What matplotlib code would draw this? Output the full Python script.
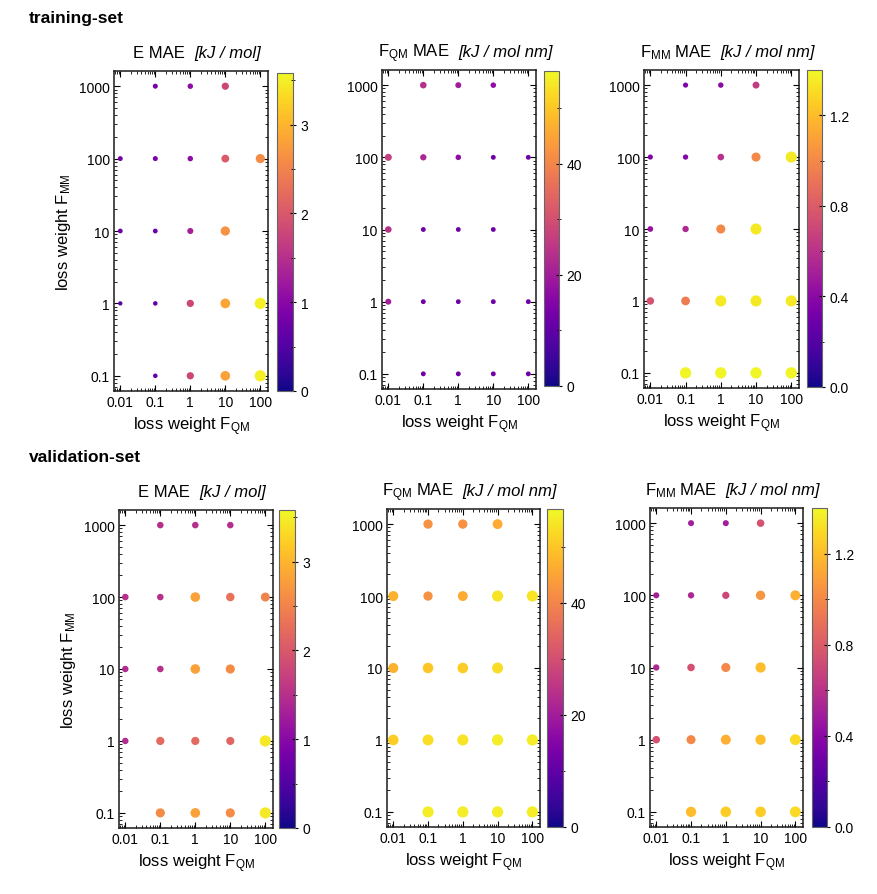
import numpy as np
import matplotlib.pyplot as plt
from matplotlib import colors, ticker

plt.rcParams['font.family'] = ['Liberation Sans', 'DejaVu Sans']
plt.rcParams['mathtext.fontset'] = 'custom'
plt.rcParams['mathtext.rm'] = 'Liberation Sans'
plt.rcParams['mathtext.it'] = 'Liberation Sans:italic'
plt.rcParams['mathtext.bf'] = 'Liberation Sans:bold'

# ── grid of loss weights (same 21 runs in every panel) ───────────────────────
w_fqm = [0.1, 1, 10,
         0.01, 0.1, 1, 10, 100,
         0.01, 0.1, 1, 10,
         0.01, 0.1, 1, 10, 100,
         0.1, 1, 10, 100]
w_fmm = [1000] * 3 + [100] * 5 + [10] * 4 + [1] * 5 + [0.1] * 4

# ── MAE values, same order as the grid ───────────────────────────────────────
train_E = [0.85, 1.05, 1.8,
           0.8, 0.85, 1.05, 2.05, 2.6,
           0.75, 0.75, 1.3, 2.65,
           0.55, 0.65, 1.8, 2.85, 3.5,
           0.65, 1.8, 2.8, 3.5]
train_FQM = [24, 20, 17,
             27, 22, 17, 12.5, 12.5,
             24, 12.5, 12, 12,
             20, 12.5, 12, 12.5, 12.5,
             12.5, 12.5, 12.5, 12.5]
train_FMM = [0.35, 0.4, 0.65,
             0.35, 0.38, 0.6, 1.0, 1.35,
             0.45, 0.55, 1.0, 1.35,
             0.75, 0.95, 1.35, 1.35, 1.35,
             1.38, 1.38, 1.38, 1.38]

val_E = [1.5, 1.5, 1.5,
         1.5, 1.5, 2.8, 2.3, 2.5,
         1.45, 1.5, 2.8, 2.6,
         1.45, 2.2, 2.2, 2.15, 3.45,
         2.6, 2.8, 2.6, 3.45]
val_FQM = [42, 42, 46,
           47, 42, 46, 54, 54,
           47, 50, 51, 53,
           51, 53, 54, 55, 55,
           55, 55, 55, 55]
val_FMM = [0.5, 0.5, 0.75,
           0.5, 0.55, 0.7, 1.05, 1.15,
           0.55, 0.75, 1.0, 1.2,
           0.75, 1.0, 1.15, 1.2, 1.3,
           1.2, 1.25, 1.25, 1.3]

# colour range, major and minor colourbar ticks per quantity
VMAX = {"E": 3.58, "FQM": 56.7, "FMM": 1.40}
CB_MAJOR = {"E": [0, 1, 2, 3], "FQM": [0, 20, 40], "FMM": [0.0, 0.4, 0.8, 1.2]}
CB_MINOR = {"E": [0.5, 1.5, 2.5, 3.5], "FQM": [10, 30, 50], "FMM": [0.2, 0.6, 1.0]}
CB_FMT = {"E": "{:.0f}", "FQM": "{:.0f}", "FMM": "{:.1f}"}
TITLE_HEAD = {"E": "E MAE",
              "FQM": r"F$_{\mathrm{QM}}$ MAE",
              "FMM": r"F$_{\mathrm{MM}}$ MAE"}
TITLE_UNIT = {"E": "[kJ / mol]", "FQM": "[kJ / mol nm]", "FMM": "[kJ / mol nm]"}

W, H = 877, 895
fig = plt.figure(figsize=(W / 100, H / 100), dpi=100)
renderer = fig.canvas.get_renderer()


def px_axes(x0, y0, x1, y1):
    """Axes from pixel box (top-left origin)."""
    return fig.add_axes([x0 / W, 1 - y1 / H, (x1 - x0) / W, (y1 - y0) / H])


def add_title(box, key):
    """Plain head + italic unit, centred together above the panel."""
    t1 = fig.text(0, 0, TITLE_HEAD[key], fontsize=12, va='baseline', ha='left')
    t2 = fig.text(0, 0, TITLE_UNIT[key], fontsize=12, style='italic',
                  va='baseline', ha='left')
    w1 = t1.get_window_extent(renderer).width
    w2 = t2.get_window_extent(renderer).width
    gap = 9
    cx = (box[0] + box[2]) / 2 + 6
    x0 = cx - (w1 + gap + w2) / 2
    yb = box[1] - 14
    t1.set_position((x0 / W, 1 - yb / H))
    t2.set_position(((x0 + w1 + gap) / W, 1 - yb / H))


def draw_panel(box, cbox, key, values, ylabel):
    ax = px_axes(*box)
    cax = px_axes(*cbox)
    vmax = VMAX[key]
    norm = colors.Normalize(0, vmax)
    v = np.array(values)
    diam_px = 3.0 + 8.5 * v / vmax
    ax.scatter(w_fqm, w_fmm, c=v, cmap='plasma', norm=norm,
               s=(diam_px * 0.72) ** 2, linewidths=0, zorder=3)
    ax.set_xscale('log')
    ax.set_yscale('log')
    ax.set_xlim(10 ** -2.18, 10 ** 2.22)
    ax.set_ylim(10 ** -1.21, 10 ** 3.21)
    ax.set_xticks([0.01, 0.1, 1, 10, 100])
    ax.set_xticklabels(["0.01", "0.1", "1", "10", "100"])
    ax.set_yticks([0.1, 1, 10, 100, 1000])
    ax.set_yticklabels(["0.1", "1", "10", "100", "1000"])
    ax.xaxis.set_minor_locator(ticker.LogLocator(subs=np.arange(2, 10), numticks=20))
    ax.yaxis.set_minor_locator(ticker.LogLocator(subs=np.arange(2, 10), numticks=20))
    ax.xaxis.set_minor_formatter(ticker.NullFormatter())
    ax.yaxis.set_minor_formatter(ticker.NullFormatter())
    ax.tick_params(which='both', direction='in', top=True, right=True,
                   labelsize=10, pad=3)
    ax.tick_params(which='major', length=4, width=0.8)
    ax.tick_params(which='minor', length=2, width=0.6)
    for s in ax.spines.values():
        s.set_linewidth(1.1)
        s.set_color('#1a1a1a')
    ax.set_xlabel(r"loss weight F$_{\mathrm{QM}}$", fontsize=12, labelpad=4)
    if ylabel:
        ax.set_ylabel(r"loss weight F$_{\mathrm{MM}}$", fontsize=12, labelpad=4)
    add_title(box, key)

    sm = plt.cm.ScalarMappable(norm=norm, cmap='plasma')
    cb = fig.colorbar(sm, cax=cax)
    cb.set_ticks(CB_MAJOR[key])
    cb.set_ticklabels([CB_FMT[key].format(t) for t in CB_MAJOR[key]])
    cb.ax.yaxis.set_minor_locator(ticker.FixedLocator(CB_MINOR[key]))
    cb.ax.tick_params(which='both', direction='inout', labelsize=10, pad=3)
    cb.ax.tick_params(which='major', length=5, width=0.8)
    cb.ax.tick_params(which='minor', length=3, width=0.6)
    cb.outline.set_edgecolor('#666666')
    cb.outline.set_linewidth(0.8)


# pixel boxes: (axes box, colourbar box)
top = [((114, 72, 268, 392), (277, 74, 293, 392)),
       ((382, 71, 536, 390), (544, 72, 559, 387)),
       ((644, 71, 799, 389), (807, 71, 822, 388))]
bottom = [((119, 511, 273, 829), (279, 511, 295, 829)),
          ((387, 510, 540, 828), (547, 510, 563, 828)),
          ((650, 509, 803, 828), (812, 509, 827, 828))]

for (box, cbox), key, vals in zip(top, ["E", "FQM", "FMM"],
                                  [train_E, train_FQM, train_FMM]):
    draw_panel(box, cbox, key, vals, key == "E")
for (box, cbox), key, vals in zip(bottom, ["E", "FQM", "FMM"],
                                  [val_E, val_FQM, val_FMM]):
    draw_panel(box, cbox, key, vals, key == "E")

fig.text(29 / W, 1 - 18 / H, "training-set", fontsize=12.5, fontweight='bold',
         va='center', ha='left')
fig.text(29 / W, 1 - 458 / H, "validation-set", fontsize=12.5, fontweight='bold',
         va='center', ha='left')

fig.savefig("out.png", dpi=100, facecolor='white')
